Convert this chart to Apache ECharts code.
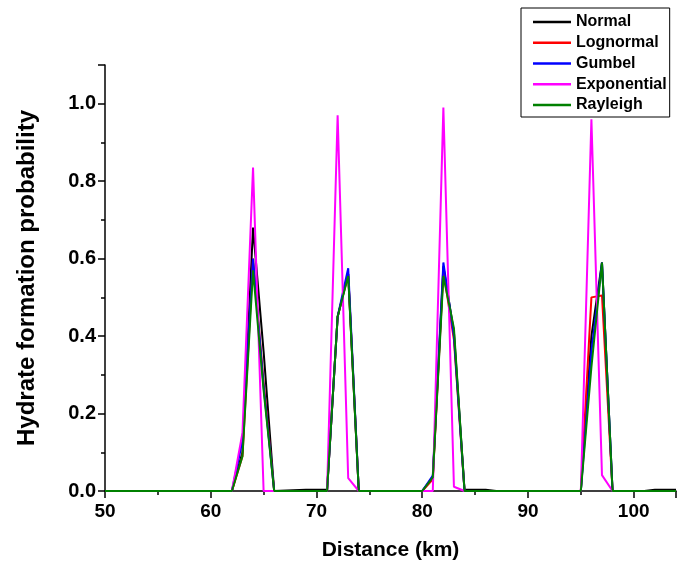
<!DOCTYPE html>
<html>
<head>
<meta charset="utf-8">
<script src="https://cdn.jsdelivr.net/npm/echarts@6/dist/echarts.min.js"></script>
<style>
html,body{margin:0;padding:0;background:#fff;}
#chart{width:677px;height:563px;}
</style>
</head>
<body>
<div id="chart"></div>
<script>
// Distance (km)
const distance = [50, 62, 63, 64, 65, 66, 69, 70, 71, 72, 73, 74, 80, 81, 82, 83, 84, 85, 86, 87, 95, 96, 97, 98, 101, 102, 104];
const normal      = [0, 0, 0.10, 0.68, 0.36, 0, 0.003, 0.003, 0.003, 0.45, 0.56, 0, 0, 0.035, 0.58, 0.41, 0.003, 0.003, 0.003, 0, 0, 0.40, 0.59, 0, 0, 0.003, 0.003];
const lognormal   = [0, 0, 0.09, 0.60, 0.28, 0, 0, 0, 0, 0.45, 0.56, 0, 0, 0.03, 0.57, 0.39, 0, 0, 0, 0, 0, 0.50, 0.505, 0, 0, 0, 0];
const gumbel      = [0, 0, 0.13, 0.60, 0.27, 0, 0, 0, 0, 0.45, 0.575, 0, 0, 0.04, 0.59, 0.40, 0, 0, 0, 0, 0, 0.36, 0.59, 0, 0, 0, 0];
const exponential = [0, 0, 0.15, 0.835, 0, 0, 0, 0, 0, 0.97, 0.033, 0, 0, 0, 0.99, 0.011, 0, 0, 0, 0, 0, 0.96, 0.041, 0, 0, 0, 0];
const rayleigh    = [0, 0, 0.09, 0.57, 0.26, 0, 0, 0, 0, 0.45, 0.555, 0, 0, 0.035, 0.555, 0.42, 0, 0, 0, 0, 0, 0.32, 0.59, 0, 0, 0, 0];
const xTicks = [50, 60, 70, 80, 90, 100];
const yTicks = [0, 0.2, 0.4, 0.6, 0.8, 1.0];

const names = ['Normal', 'Lognormal', 'Gumbel', 'Exponential', 'Rayleigh'];
const values = [normal, lognormal, gumbel, exponential, rayleigh];
const colors = ['#000000', '#ff0000', '#0000ff', '#ff00ff', '#008000'];
const FONT = 'Arial, "Liberation Sans", sans-serif';

const chart = echarts.init(document.getElementById('chart'), null, {renderer: 'canvas'});
chart.setOption({
  backgroundColor: '#ffffff',
  animation: false,
  grid: {left: 105, right: 1, top: 65, bottom: 72, containLabel: false, outerBoundsMode: 'none'},
  legend: {
    orient: 'vertical',
    left: 521, top: 8,
    data: names,
    icon: 'rect',
    itemWidth: 38, itemHeight: 2.5, itemGap: 4.75,
    padding: [6, 3, 4, 12],
    borderColor: '#000', borderWidth: 1,
    backgroundColor: '#fff',
    textStyle: {fontFamily: FONT, fontWeight: 'bold', fontSize: 16, lineHeight: 16, color: '#000'}
  },
  xAxis: {
    type: 'value', min: 50, max: 104, interval: 10,
    name: 'Distance (km)', nameLocation: 'middle', nameGap: 49,
    nameTextStyle: {fontFamily: FONT, fontWeight: 'bold', fontSize: 21, color: '#000'},
    axisLine: {lineStyle: {color: '#000', width: 1.5}},
    axisTick: {length: 7, lineStyle: {color: '#000', width: 1.5}},
    minorTick: {show: true, splitNumber: 2, length: 4, lineStyle: {color: '#000', width: 1.5}},
    splitLine: {show: false},
    axisLabel: {
      fontFamily: FONT, fontWeight: 'bold', fontSize: 19, color: '#000', margin: 11,
      formatter: v => xTicks.indexOf(v) >= 0 ? String(v) : ''
    }
  },
  yAxis: {
    type: 'value', min: 0, max: 1.1, interval: 0.2,
    name: 'Hydrate formation probability', nameLocation: 'middle', nameGap: 66,
    nameTextStyle: {fontFamily: FONT, fontWeight: 'bold', fontSize: 24, color: '#000'},
    axisLine: {show: true, lineStyle: {color: '#000', width: 1.5}},
    axisTick: {show: true, length: 7, lineStyle: {color: '#000', width: 1.5}},
    minorTick: {show: true, splitNumber: 2, length: 4, lineStyle: {color: '#000', width: 1.5}},
    splitLine: {show: false},
    axisLabel: {
      fontFamily: FONT, fontWeight: 'bold', fontSize: 20, color: '#000', margin: 9,
      formatter: v => yTicks.some(t => Math.abs(t - v) < 1e-6) ? v.toFixed(1) : ''
    }
  },
  series: names.map((n, i) => ({
    name: n, type: 'line', symbol: 'none', showSymbol: false,
    data: distance.map((d, j) => [d, values[i][j]]),
    lineStyle: {color: colors[i], width: 2},
    itemStyle: {color: colors[i]},
    z: 2 + i
  }))
});
</script>
</body>
</html>
